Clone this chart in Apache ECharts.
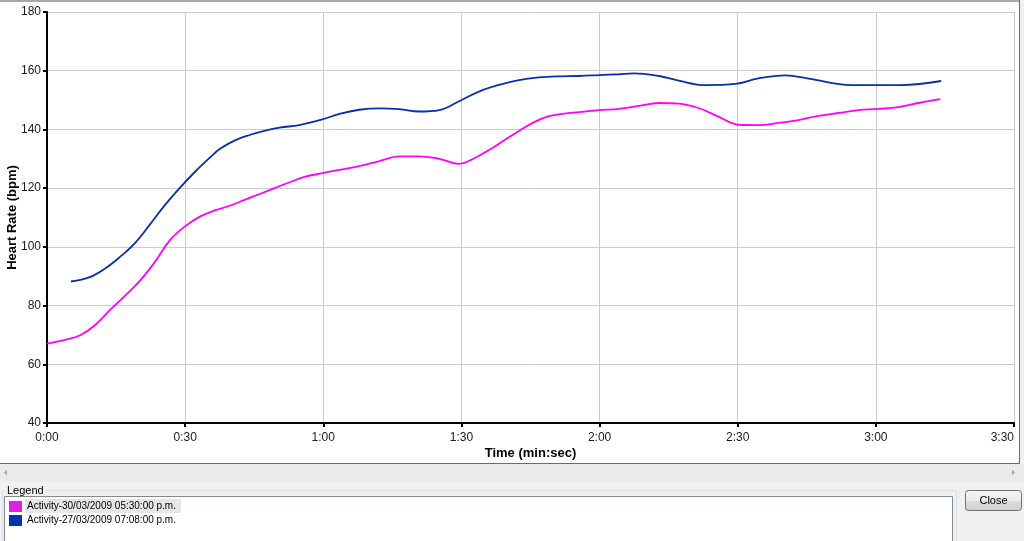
<!DOCTYPE html>
<html>
<head>
<meta charset="utf-8">
<script src="https://cdn.jsdelivr.net/npm/echarts@6/dist/echarts.min.js"></script>
<style>
html,body{margin:0;padding:0;background:#f0f0f0;}
#chart{width:1024px;height:541px;}
</style>
</head>
<body>
<div id="chart"></div>
<script>
// ---- data (time in seconds, heart rate in bpm) ----
const seriesNames = ['Activity-30/03/2009 05:30:00 p.m.', 'Activity-27/03/2009 07:08:00 p.m.'];
const magentaTime = [0,3.9,7.2,10.4,13.7,16.9,20.2,23.4,26.7,29.9,33.2,36.4,39.7,42.9,46.2,49.4,52.7,55.9,59.8,63.5,67.8,72.2,76.5,80.8,85.2,89.5,92.8,96.0,99.3,102.5,105.8,109.0,112.3,115.5,119.9,124.2,128.5,132.9,137.2,141.5,145.9,150.2,154.5,158.9,163.2,167.5,171.9,176.2,180.5,184.9,189.2,194.0];
const magentaHR = [67,68.3,69.9,73.3,78.5,83.3,88.5,94.8,102.3,106.9,110.3,112.4,114,116,118,120,122,123.8,125.1,126.2,127.5,129.2,130.8,130.8,130,128.3,130.2,133,136.3,139.5,142.5,144.5,145.4,145.9,146.6,147,148,149,148.8,147.3,144.3,141.6,141.5,142.2,143.2,144.6,145.6,146.6,147,147.6,149,150.3];
const blueTime = [5.2,9.3,12.6,15.8,19.1,22.3,25.6,28.8,32.1,35.3,37.5,40.7,44.0,47.2,50.5,54.8,59.8,63.5,67.8,72.2,76.5,80.8,85.2,89.5,93.8,98.2,102.5,106.8,111.2,115.5,119.9,124.2,127.4,132.9,137.2,143.0,149.5,154.5,160.4,165.4,174.7,185.5,194.2];
const blueHR = [88.2,89.7,92.6,96.5,101.3,107.5,114.2,120,125.5,130.3,133.3,136.2,138.1,139.5,140.6,141.5,143.4,145.3,146.7,147.2,146.9,146.1,146.6,149.6,152.9,155.2,156.8,157.7,158.1,158.2,158.5,158.8,159.1,158.2,156.6,155.1,155.5,157.4,158.4,157.3,155.1,155.1,156.5];
const xTicks = [0,30,60,90,120,150,180,210];
const yTicks = [40,60,80,100,120,140,160,180];
const xTitle = 'Time (min:sec)';
const yTitle = 'Heart Rate (bpm)';
const legendTitle = 'Legend';
const buttonLabel = 'Close';

const FONT = "'Liberation Sans', Arial, sans-serif";
const pair = (t, v) => t.map((x, i) => [x, v[i]]);
const fmt = s => Math.floor(s / 60) + ':' + String(Math.round(s % 60)).padStart(2, '0');

const chart = echarts.init(document.getElementById('chart'), null, {renderer: 'canvas'});
chart.setOption({
  backgroundColor: '#f0f0f0',
  animation: false,
  textStyle: {fontFamily: FONT},
  grid: {left: 47, right: 10, top: 12, bottom: 118, containLabel: false, outerBoundsMode: 'none'},
  xAxis: {
    type: 'value', min: xTicks[0], max: xTicks[xTicks.length - 1], interval: 30,
    name: xTitle, nameLocation: 'middle', nameGap: 24, nameMoveOverlap: false,
    nameTextStyle: {fontWeight: 'bold', fontSize: 13, color: '#000', fontFamily: FONT},
    axisLine: {show: true, onZero: false, lineStyle: {color: '#000', width: 2}},
    axisTick: {show: true, length: 4, lineStyle: {color: '#000', width: 2}},
    axisLabel: {formatter: fmt, color: '#1a1a1a', fontSize: 12, margin: 9, alignMaxLabel: 'right', fontFamily: FONT},
    splitLine: {show: true, lineStyle: {color: '#cccccc', width: 1}}
  },
  yAxis: {
    type: 'value', min: yTicks[0], max: yTicks[yTicks.length - 1], interval: 20,
    name: yTitle, nameLocation: 'middle', nameGap: 28, nameRotate: 90, nameMoveOverlap: false,
    nameTextStyle: {fontWeight: 'bold', fontSize: 13, color: '#000', fontFamily: FONT},
    axisLine: {show: true, lineStyle: {color: '#000', width: 2}},
    axisTick: {show: true, length: 4, lineStyle: {color: '#000', width: 2}},
    axisLabel: {color: '#1a1a1a', fontSize: 12, margin: 6, fontFamily: FONT},
    splitLine: {show: true, lineStyle: {color: '#cccccc', width: 1}}
  },
  legend: {
    orient: 'vertical', left: 9, top: 501, padding: 0,
    itemWidth: 13, itemHeight: 11, itemGap: 3,
    icon: 'rect', selectedMode: false,
    textStyle: {fontSize: 10, color: '#000', fontFamily: FONT},
    data: seriesNames
  },
  series: [
    {name: seriesNames[0], type: 'line', data: pair(magentaTime, magentaHR), smooth: 0.4, showSymbol: false,
     lineStyle: {color: '#ff00ff', width: 1.8}, itemStyle: {color: '#e020e6'}, z: 3},
    {name: seriesNames[1], type: 'line', data: pair(blueTime, blueHR), smooth: 0.4, showSymbol: false,
     lineStyle: {color: '#0a2fab', width: 1.8}, itemStyle: {color: '#0733b0'}, z: 4}
  ],
  graphic: [
    // chart panel
    {type: 'rect', z: -10, shape: {x: 0, y: 0, width: 1020, height: 464}, style: {fill: '#ffffff'}},
    {type: 'line', z: -9, shape: {x1: 0, y1: 1, x2: 1020, y2: 1}, style: {stroke: '#a8a8a8', lineWidth: 2}},
    {type: 'line', z: -9, shape: {x1: 1019.5, y1: 0, x2: 1019.5, y2: 464}, style: {stroke: '#6a6a6a', lineWidth: 1}},
    {type: 'line', z: -9, shape: {x1: 0, y1: 463.5, x2: 1020, y2: 463.5}, style: {stroke: '#6a6a6a', lineWidth: 1}},
    // scrollbar
    {type: 'rect', z: -10, shape: {x: 0, y: 464, width: 1024, height: 18}, style: {fill: '#ebebeb'}},
    {type: 'polygon', z: -8, shape: {points: [[4, 472.5], [7, 469.5], [7, 475.5]]}, style: {fill: '#a6a6a6'}},
    {type: 'polygon', z: -8, shape: {points: [[1015, 472.5], [1012, 469.5], [1012, 475.5]]}, style: {fill: '#a6a6a6'}},
    // legend group box
    {type: 'rect', z: -10, shape: {x: 2.5, y: 490.5, width: 954, height: 70, r: 2}, style: {fill: 'none', stroke: '#d5dfe5', lineWidth: 1}},
    {type: 'text', z: -7, left: 5, top: 485, style: {text: legendTitle, fontSize: 11, fill: '#000', fontFamily: FONT, backgroundColor: '#f0f0f0', padding: [0, 2]}},
    {type: 'rect', z: -9, shape: {x: 4.5, y: 496.5, width: 948, height: 70}, style: {fill: '#ffffff', stroke: '#828790', lineWidth: 1}},
    {type: 'rect', z: -8, shape: {x: 25, y: 499, width: 156, height: 14}, style: {fill: '#e6e6e6'}},
    // close button
    {type: 'rect', z: -8, shape: {x: 965.5, y: 490.5, width: 56, height: 20, r: 3},
     style: {stroke: '#707070', lineWidth: 1,
       fill: new echarts.graphic.LinearGradient(0, 0, 0, 1, [{offset: 0, color: '#f4f4f4'}, {offset: 0.5, color: '#ebebeb'}, {offset: 0.51, color: '#dddddd'}, {offset: 1, color: '#cfcfcf'}])}},
    {type: 'text', z: -7, x: 993.5, y: 500.5, style: {text: buttonLabel, fontSize: 11, fill: '#000', fontFamily: FONT, align: 'center', verticalAlign: 'middle'}}
  ]
});
</script>
</body>
</html>
